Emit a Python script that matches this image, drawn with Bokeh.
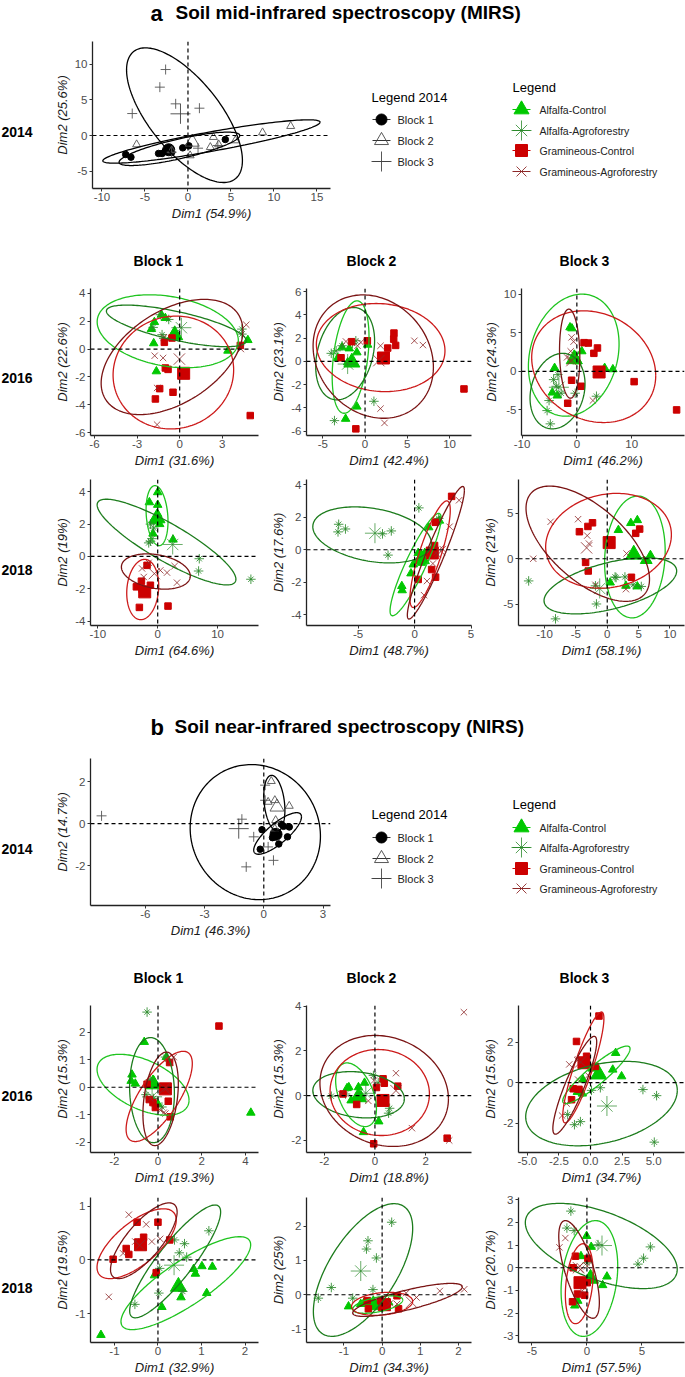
import numpy as np
from bokeh.plotting import figure
from bokeh.layouts import column, row
from bokeh.models import Span, FixedTicker
from bokeh.core.properties import value
from bokeh.embed import file_html
from bokeh.resources import INLINE

# ---------- series: (Dim1, Dim2); the last pair of each list is the group centroid ----------
a14_b1 = [(-7.24,-2.66),(-6.63,-3.04),(-3.42,-2.52),(-3.0,-2.52),(-2.65,-2.2),(-1.89,-2.34),(-0.61,-1.73),(0.1,-1.45),(4.34,-0.56),(-2.24,-2.0)]
a14_b2 = [(-5.97,-1.26),(8.67,0.42),(11.94,1.31),(2.96,-0.23),(2.6,-1.64),(3.57,-1.26),(5.5,-0.7),(0.25,-2.8),(-1.9,-2.1),(0.5,-0.93)]
a14_b3 = [(-2.6,9.25),(-3.27,6.78),(-1.43,4.44),(1.33,3.83),(-6.48,3.08),(1.17,-1.78),(-1.9,-2.34),(3.47,-1.4),(-0.87,3.04)]
a14_ell = [(-8.01,6.02,-4.21,0.47,0.0),(-9.9,15.36,-3.88,2.2,1.87),(-7.14,6.33,-6.59,12.29,-3.5)]

b14_b1 = [(-0.09,-0.29),(-0.18,-1.22),(0.44,-0.67),(0.76,-0.97),(1.2,-0.63),(1.29,-0.16),(1.0,-0.13),(0.89,-0.03),(0.62,-0.51)]
b14_b2 = [(0.38,2.02),(0.22,1.03),(0.56,1.11),(1.29,0.84),(0.6,0.16),(0.56,-0.24),(0.67,0.79)]
b14_b3 = [(-8.22,0.37),(-1.11,0.21),(-0.51,-0.63),(0.22,-1.11),(0.49,-1.75),(-0.89,-2.06),(0.07,1.83),(0.07,1.11),(-1.27,-0.24)]
b14_ell = [(-0.51,1.91,-1.46,0.52,0.32),(0.0,1.07,-0.35,2.3,0.63),(-3.73,2.87,-3.62,2.81,-0.6)]

# order of every panel below: triangles, stars, squares, crosses, ellipses (xmin,xmax,ymin,ymax,y at xmax)
a16b1_t = [(-1.29,2.46),(-1.01,2.22),(-1.78,1.93),(-1.99,1.43),(-1.83,0.41),(-1.64,-1.6),(3.4,-0.12),(4.8,0.64),(-0.54,0.95),(-0.35,1.0)]
a16b1_s = [(-1.36,2.46),(-0.77,2.12),(-1.87,1.55),(-1.24,1.03),(4.38,1.43),(4.38,1.07),(-1.12,0.76),(0.12,1.53)]
a16b1_q = [(-1.08,0.48),(-0.54,0.79),(4.27,0.26),(-1.01,-1.36),(-0.82,-1.46),(-1.41,-2.84),(-1.71,-3.58),(-0.47,-3.1),(4.97,-4.77),(0.28,-1.74)]
a16b1_x = [(4.69,1.74),(-1.76,-0.48),(-1.17,-0.64),(-1.59,-2.79),(-1.59,-5.42),(4.31,0.0),(-1.12,0.84),(-0.02,-0.72)]
a16b1_e = [(-5.81,4.13,-1.34,3.89,0.6),(-5.16,4.69,0.17,3.15,0.6),(-4.69,3.8,-5.73,2.36,-1.5),(-5.53,4.45,-4.7,3.56,1.31)]

a16b2_t = [(-2.72,1.2),(-1.87,1.11),(-0.97,0.77),(0.31,1.43),(-1.87,-0.23),(-1.28,-0.23),(-0.97,-3.89),(-2.3,-4.94),(-2.06,-0.09),(-3.23,0.29),(-1.56,-0.09)]
a16b2_s = [(-4.0,0.69),(-3.42,0.91),(-2.72,1.34),(-1.09,1.77),(-1.48,1.54),(1.05,-3.43),(-3.62,-5.09),(-2.06,-0.23)]
a16b2_q = [(-2.84,0.31),(-1.6,1.69),(0.27,1.77),(2.68,1.14),(3.42,2.43),(3.39,1.91),(3.62,1.37),(11.71,-2.37),(-1.09,-5.8),(2.18,0.29)]
a16b2_x = [(-2.26,1.71),(-0.89,1.34),(1.83,1.34),(5.84,1.77),(6.85,1.4),(1.83,-4.06),(2.3,-5.29),(-0.5,1.63),(1.63,0.06)]
a16b2_e = [(-3.89,0.47,-4.46,5.2,2.06),(-5.84,1.13,-3.31,4.63,1.77),(-5.76,9.46,-2.6,4.97,0.91),(-6.15,8.09,-4.89,5.71,-0.5)]

a16b3_t = [(-1.25,5.69),(-0.9,5.56),(0.9,2.59),(-0.36,2.03),(-4.06,0.43),(5.07,0.43),(6.57,0.26),(-4.48,-2.76),(-3.58,-3.15),(0.18,1.29),(-0.48,1.59)]
a16b3_s = [(-4.24,-1.08),(-3.46,-0.43),(-3.76,-1.94),(-2.87,-2.84),(-0.3,-2.84),(-5.07,-3.79),(-5.43,-5.09),(-4.84,-6.81),(3.58,-3.23),(-3.28,-2.07)]
a16b3_q = [(1.31,3.71),(2.09,3.66),(3.76,3.02),(3.1,2.33),(-0.96,-1.16),(0.78,-1.94),(-1.67,-4.14),(10.45,-1.34),(18.2,-5.0),(4.06,-0.09)]
a16b3_x = [(-0.96,4.4),(-0.6,3.84),(-1.13,2.59),(-1.79,1.81),(-1.25,1.29),(2.93,-3.79),(-0.9,1.38)]
a16b3_e = [(-8.84,7.7,-5.82,10.0,3.53),(-8.54,1.49,-7.46,2.33,-1.64),(-8.24,14.39,-6.64,7.84,-0.56),(-3.16,0.54,-3.49,8.06,1.81)]

a18b1_t = [(0,3.97),(-1.39,3.35),(0,3.19),(0,2.62),(0.33,2.0),(-0.56,2.17),(-0.78,1.41),(2.56,1.04),(-0.11,2.37)]
a18b1_s = [(-1.22,2.0),(-1.5,0.84),(-0.94,1.1),(6.94,-0.14),(6.83,-0.9),(15.56,-1.41),(-0.67,1.76),(-1.22,0.94),(2.5,0.74)]
a18b1_q = [(-1.78,-0.55),(-2.72,-1.53),(-1.22,-1.78),(-3.56,-1.88),(-3.06,-3.15),(1.72,-3.07),(-2.61,-2.02),(-2.17,-2.19)]
a18b1_x = [(-2.61,-0.74),(-2.33,-1.27),(2.83,-0.59),(1.56,-1.0),(0.44,-0.86),(3.22,-1.62),(-1.5,-0.39),(-0.56,-1.06)]
a18b1_e = [(-1.94,1.72,0.67,4.38,2.17),(-10.11,13.06,-1.76,3.54,-1.41),(-5.17,0.17,-3.91,-0.18,-1.82),(-6.06,5.44,-2.02,0.16,-1.21)]

a18b2_t = [(1.25,1.38),(2.2,1.79),(1.97,1.69),(0.32,-0.2),(-0.12,-0.91),(-0.32,-1.46),(0.61,-0.81),(-1.13,-2.24),(-1.1,-2.5),(0.9,-0.2),(0.6,-0.57)]
a18b2_s = [(-6.72,1.57),(-6.78,1.1),(-6.12,1.28),(-2.84,0.98),(-2.06,1.16),(-2.35,-0.33),(0.38,2.58),(2.14,1.93),(-3.51,1.02)]
a18b2_q = [(3.28,3.29),(1.83,1.69),(1.77,0.26),(1.62,-0.1),(1.51,-1.22),(1.86,-1.69),(0.32,-1.83),(1.33,-0.2),(1.57,-0.2)]
a18b2_x = [(3.94,3.05),(3.1,1.42),(2.49,0.04),(2.06,-0.3),(1.62,-0.85),(1.1,-1.93),(0.84,-2.8),(2.2,0.0)]
a18b2_e = [(-2.17,2.35,-4.07,2.24,1.93),(-9.01,1.48,-0.81,2.64,0.41),(-0.41,3.16,-3.56,3.01,2.44),(-0.64,4.41,-4.27,3.9,3.66)]

a18b3_t = [(1.78,3.16),(3.76,3.93),(4.8,4.25),(6.89,0.4),(0.47,-2.62),(2.98,-2.98),(4.8,-3.05),(5.95,-0.25),(6.48,-0.25),(4.23,0.47)]
a18b3_s = [(-12.53,-2.44),(-8.25,-6.62),(-1.72,-4.98),(1.25,-2.0),(1.41,-2.07),(2.82,-2.0),(4.13,-2.87),(5.43,-3.05),(-1.88,-2.98),(-1.2,-3.27)]
a18b3_q = [(-2.35,3.96),(-3.08,3.56),(-4.44,2.98),(4.54,2.8),(5.17,3.27),(-3.45,-0.4),(-3.03,-1.35),(3.86,-2.04),(0.31,1.78)]
a18b3_x = [(-4.65,4.36),(-9.03,4.07),(-3.19,2.55),(-2.92,1.67),(-11.8,0),(3.08,0.58),(-1.88,-2.87),(2.98,-3.35),(-3.29,1.2)]
a18b3_e = [(-0.42,9.24,-6.51,6.91,0.84),(-10.08,11.07,-6.07,0.11,-1.35),(-9.82,10.23,-3.24,7.2,2.65),(-12.95,6.74,-4.69,8.0,-2.25)]

b16b1_t = [(-0.63,1.65),(-1.19,0.46),(-1.23,0.23),(-1.04,0.13),(-0.2,0.25),(4.25,-0.93),(0,-0.62),(0.38,1.1),(-0.43,0.07),(-0.23,0.11)]
b16b1_s = [(-0.5,2.74),(-0.35,0.28),(-0.55,-0.27),(0.18,-0.72),(-0.2,-0.41),(0.34,1.1),(-0.27,-0.35)]
b16b1_q = [(2.79,2.23),(0.53,0.9),(-0.5,0.11),(-0.4,-0.45),(-0.23,-0.56),(-0.12,-0.74),(0.47,-0.51),(0.56,-1.08),(0.34,-0.06)]
b16b1_x = [(0.72,1.1),(0.26,-0.93),(0.11,-0.84),(0.38,-0.05),(0.56,0.92),(-0.35,-0.41),(0.34,-0.96),(0.3,-0.05)]
b16b1_e = [(-2.79,1.42,-1.02,1.2,-0.47),(-1.3,0.75,-2.02,1.81,-0.23),(-1.46,1.57,-1.98,1.31,0.86),(-0.69,0.93,-2.13,1.28,0.13)]

b16b2_t = [(-1.03,0.37),(-0.65,0.37),(-0.41,0.57),(-0.94,-0.22),(-0.55,0),(-0.68,-0.15),(0.15,-1.16),(-0.45,-1.64),(-1.1,0.33),(-0.65,-0.07)]
b16b2_s = [(-0.06,0.9),(0.13,0.57),(0.58,-0.57),(0.54,-0.79),(-1.16,0.07),(-1.72,-0.03),(-0.36,0.1)]
b16b2_q = [(0.32,0.75),(0.37,0.55),(0.06,0.36),(0.9,0.42),(-0.72,-0.4),(-1.26,0.07),(-0.05,-2.16),(2.85,-1.91),(0.32,-0.22)]
b16b2_x = [(3.51,3.73),(0.83,1.0),(-0.26,-0.24),(1.46,-1.46),(2.93,-2.01),(-0.04,0.67),(-1.33,0.07),(0.83,0.22)]
b16b2_e = [(-1.55,0.06,-1.39,1.46,-0.6),(-2.45,1.16,-1.0,1.07,-0.15),(-1.77,2.15,-1.79,2.06,0.07),(-2.17,2.9,-2.28,2.69,-0.15)]

b16b3_t = [(1.99,1.46),(1.76,0.64),(2.46,0.31),(-0.6,0.15),(-1.04,-0.46),(-0.65,-0.54),(0.13,0.69),(0.65,0.41)]
b16b3_s = [(4.15,-0.34),(5.23,-0.64),(5.05,-2.93),(0.78,-0.25),(0.08,-0.38),(-1.81,-1.57),(-1.27,-2.07),(-0.8,-1.92),(1.3,-1.15)]
b16b3_q = [(0.67,3.28),(-1.11,2.03),(-0.31,1.3),(0.39,0.8),(-1.37,-0.3),(-0.91,-0.33),(-1.5,-0.84),(-0.52,0.98)]
b16b3_x = [(-2.25,-1.62),(-1.89,-1.03),(-0.98,0.15),(-0.18,0.36),(-1.68,0.9),(-1.04,1.1),(-0.78,1.02)]
b16b3_e = [(-2.2,3.13,-1.03,1.8,1.67),(-5.13,6.87,-3.11,1.05,-0.38),(-2.2,1.06,-1.98,3.48,3.15),(-2.98,0.49,-2.54,2.28,2.0)]

b18b1_t = [(-1.31,-1.4),(0.09,-0.88),(0.53,-0.7),(0.82,-0.17),(0.86,-0.26),(1.01,-0.12),(1.25,-0.13),(1.12,-0.62),(-0.08,-0.29),(0.47,-0.5)]
b18b1_s = [(1.17,0.54),(0.61,0.3),(0.49,0.13),(0.66,0.05),(0.38,0.37),(0.02,-0.62),(-0.53,-0.83),(0.04,-0.16),(0.57,-0.59),(0.37,-0.1)]
b18b1_q = [(-0.48,0.7),(0,0.7),(-0.33,0.42),(0.27,0.37),(-0.73,0.21),(-0.67,0.1),(-1.03,0.01),(-0.04,-0.24),(-0.4,0.28)]
b18b1_x = [(-0.67,0.84),(-0.27,0.66),(-0.52,0.34),(-0.14,0.34),(0.05,0.39),(-0.8,0.12),(-1.13,-0.69),(-0.42,0.27)]
b18b1_e = [(-0.85,2.13,-1.3,0.43,0.28),(-0.65,1.44,-1.08,1.02,0.89),(-1.4,0.42,-0.35,0.95,0.74),(-1.09,0.44,-0.35,1.06,0.89)]

b18b2_t = [(-0.88,-0.34),(-0.47,-0.22),(-0.34,-0.27),(-0.17,-0.27),(0.17,-0.22),(-0.56,-0.27),(-0.04,-0.32),(-0.23,-0.3)]
b18b2_s = [(0.25,2.11),(-0.37,1.57),(-0.41,1.33),(-0.15,1.07),(-1.33,0.21),(-1.67,-0.1),(-0.24,0.15),(-0.77,-0.1),(-0.56,0.69)]
b18b2_q = [(0.39,-0.03),(0.43,-0.41),(-0.39,-0.17),(-0.36,-0.41),(-0.04,-0.17),(0.13,-0.22),(0,-0.27),(0.06,-0.29)]
b18b2_x = [(2.15,0.16),(1.51,0.11),(0.9,-0.08),(0.63,0.05),(0.39,-0.27),(0.21,-0.25),(0.77,-0.22)]
b18b2_e = [(-0.77,0.54,-0.54,-0.03,-0.15),(-1.8,0.8,-1.21,2.65,1.93),(-0.8,0.8,-0.6,0.07,-0.19),(-0.77,2.1,-0.63,0.33,0.23)]

b18b3_t = [(-0.03,1.4),(0.39,0.92),(-0.54,0.51),(0.27,-0.36),(1.82,-0.39),(1.43,-0.77),(-0.83,-1.46),(-1.1,-1.67),(0.33,-0.48)]
b18b3_s = [(-1.46,2.5),(-1.82,1.75),(-1.16,1.64),(1.01,1.02),(5.77,0.92),(5.15,0.42),(4.64,0.16),(0.03,0.22),(1.37,0.98)]
b18b3_q = [(-1.04,0.51),(0.09,0.41),(-1.25,0),(-0.86,-1.16),(-0.21,-1.21),(-1.31,-1.5),(0.03,-0.66),(-0.63,-0.66)]
b18b3_x = [(-1.96,1.31),(-2.5,0.9),(-0.65,0.07),(-0.57,-0.07),(0.03,0.07),(-0.42,-1.02),(-0.77,0)]
b18b3_e = [(-2.35,2.8,-3.03,2.08,0.07),(-5.6,8.21,-0.92,2.84,-0.07),(-1.96,0.57,-2.47,1.06,-0.22),(-2.56,1.13,-2.23,2.08,-1.53)]

# ---------- axis contents ----------
tick_a14x = [-10,-5,0,5,10,15]; tick_a14y = [-5,0,5,10]
tick_b14x = [-6,-3,0,3]; tick_b14y = [-2,0,2]
legend_blocks = ["Block 1","Block 2","Block 3"]
legend_groups = ["Alfalfa-Control","Alfalfa-Agroforestry","Gramineous-Control","Gramineous-Agroforestry"]
block_titles = ["Block 1","Block 2","Block 3"]

FONT = value("Liberation Sans")
GC, GA, RC, RA = "#00C800", "#2A8A2A", "#CC0000", "#8E2A2A"
EC = ["#1FC41F", "#1C7C1C", "#CC1A1A", "#7A1414"]
TICK = "#4D4D4D"

def ellipse(p, e, color):
    xmin, xmax, ymin, ymax, yx = e
    cx, cy, sx, sy = (xmin+xmax)/2, (ymin+ymax)/2, (xmax-xmin)/2, (ymax-ymin)/2
    r = (yx-cy)/sy
    t = np.linspace(0, 2*np.pi, 181)
    p.line(cx+sx*np.cos(t), cy+sy*(r*np.cos(t)+np.sqrt(1-r*r)*np.sin(t)), line_color=color, line_width=1.3)

def xy(s):
    return [a for a, _ in s], [b for _, b in s]

def tri(p, s, size, **k):
    p.scatter(*xy(s), marker="triangle", size=size, **k)

def star(p, x, y, size, color=GA, alpha=0.85, lw=1.0):
    p.scatter(x, y, marker="cross", size=size, fill_color=None, line_color=color, line_alpha=alpha, line_width=lw)
    p.scatter(x, y, marker="x", size=size*0.8, fill_color=None, line_color=color, line_alpha=alpha, line_width=lw)

def panel(w, h, left, right, top, bottom, xlim, ylim, xt, yt, xl, yl, fmt="{}"):
    p = figure(width=w, height=h, x_range=xlim, y_range=ylim, output_backend="svg", toolbar_location=None,
               min_border_left=left, min_border_right=right, min_border_top=top, min_border_bottom=bottom,
               outline_line_color=None, background_fill_color=None, border_fill_color=None)
    p.grid.visible = False
    for ax, ticks, lab in ((p.xaxis[0], xt, xl), (p.yaxis[0], yt, yl)):
        ax.ticker = FixedTicker(ticks=ticks)
        ax.major_label_overrides = {t: (fmt.format(t) if ax is p.xaxis[0] else str(t)) for t in ticks}
        ax.minor_tick_line_color = None
        ax.major_tick_in = 0; ax.major_tick_out = 3
        ax.major_tick_line_color = "#333333"; ax.axis_line_color = "#222222"; ax.axis_line_width = 1.3
        ax.major_label_text_color = TICK; ax.major_label_text_font = "Liberation Sans"
        ax.major_label_text_font_size = "11.5px"; ax.major_label_standoff = 2
        ax.axis_label = lab; ax.axis_label_text_font = "Liberation Sans"
        ax.axis_label_text_font_style = "italic"; ax.axis_label_text_font_size = "13px"
        ax.axis_label_text_color = "#1a1a1a"; ax.axis_label_standoff = 2
    p.xaxis[0].major_label_standoff = 1
    for dim in ("width", "height"):
        p.add_layout(Span(location=0, dimension=dim, line_color="black", line_dash="4 3", line_width=1.2))
    return p

def groups(p, t, s, q, x, e):
    tri(p, t[:-1], 8.5, fill_color=GC, line_color=GC)
    tri(p, t[-1:], 16, fill_color=GC, line_color=GC)
    sx, sy = xy(s); star(p, sx[:-1], sy[:-1], 9.5); star(p, sx[-1:], sy[-1:], 20, alpha=0.7)
    qx, qy = xy(q)
    p.scatter(qx[:-1], qy[:-1], marker="square", size=6.5, fill_color=RC, line_color=RC)
    p.scatter(qx[-1:], qy[-1:], marker="square", size=12, fill_color=RC, line_color=RC)
    xx, xyy = xy(x)
    p.scatter(xx[:-1], xyy[:-1], marker="x", size=9, fill_color=None, line_color=RA, line_alpha=0.8, line_width=1)
    p.scatter(xx[-1:], xyy[-1:], marker="x", size=16, fill_color=None, line_color=RA, line_alpha=0.8, line_width=1)
    for el, c in zip(e, EC):
        ellipse(p, el, c)

def blocks(p, b1, b2, b3, ells):
    x, y = xy(b1)
    p.scatter(x[:-1], y[:-1], marker="circle", size=6.5, fill_color="black", line_color="black")
    p.scatter(x[-1:], y[-1:], marker="circle", size=12, fill_color="black", line_color="black")
    x, y = xy(b2)
    p.scatter(x[:-1], y[:-1], marker="triangle", size=8, fill_color=None, line_color="#555555", line_width=0.9)
    p.scatter(x[-1:], y[-1:], marker="triangle", size=14, fill_color=None, line_color="#555555", line_width=0.9)
    x, y = xy(b3)
    p.scatter(x[:-1], y[:-1], marker="cross", size=10, fill_color=None, line_color="#555555", line_width=0.9)
    p.scatter(x[-1:], y[-1:], marker="cross", size=20, fill_color=None, line_color="#444444", line_width=0.9)
    for e in ells:
        ellipse(p, e, "black")

def blank(w, h, x0, y0):
    p = figure(width=w, height=h, x_range=(x0, x0+w), y_range=(y0+h, y0), output_backend="svg", toolbar_location=None,
               min_border=0, outline_line_color=None, background_fill_color=None, border_fill_color=None,
               frame_align=False)
    p.axis.visible = False; p.grid.visible = False
    return p

def put(p, x, y, text, size, style="normal", color="black", align="left"):
    p.text([x], [y], text=[text], text_font=FONT, text_font_size=size, text_font_style=style,
           text_baseline="middle", text_align=align, text_color=color)

def legends(x0, y0, w, h, ty1, by, ty2, gy):
    p = blank(w, h, x0, y0)
    put(p, 371, ty1, "Legend 2014", "13px")
    mx = 381
    for yy, t in zip(by, legend_blocks):
        p.line([372, 390], [yy, yy], line_color="#333333", line_width=1)
        put(p, 397, yy, t, "11px", color="#222222")
    p.scatter([mx], [by[0]], marker="circle", size=11, fill_color="black", line_color="black")
    p.scatter([mx], [by[1]], marker="triangle", size=14, fill_color=None, line_color="#444444", line_width=0.9)
    p.scatter([mx], [by[2]], marker="cross", size=20, fill_color=None, line_color="#444444", line_width=0.9)
    put(p, 512, ty2, "Legend", "13px")
    mx = 521
    for yy, t, c in zip(gy, legend_groups, (GC, GA, RC, RA)):
        p.line([512, 530], [yy, yy], line_color=c, line_width=1)
        put(p, 539, yy, t, "10.5px", color="#222222")
    p.scatter([mx], [gy[0]], marker="triangle", size=15, fill_color=GC, line_color=GC)
    star(p, [mx], [gy[1]], 20, alpha=0.8)
    p.scatter([mx], [gy[2]], marker="square", size=12, fill_color=RC, line_color=RC)
    p.scatter([mx], [gy[3]], marker="x", size=14, fill_color=None, line_color=RA, line_width=0.9)
    return p

def title(y0, h, letter, text, lx, tx, ty):
    p = blank(685, h, 0, y0)
    put(p, lx, ty + 1, letter, "22px", "bold")
    put(p, tx, ty, text, "19px", "bold")
    return p

def heads(y0, h, ty):
    p = blank(685, h, 0, y0)
    for cx, t in zip((158, 371, 584), block_titles):
        put(p, cx, ty, t, "14px", "bold", align="center")
    return p

LBL = 45
COL = [(268-LBL, 90-LBL, 10), (212, 35, 9)]

def rowlabel(y0, h, text, ty):
    p = blank(LBL, h, 0, y0)
    put(p, 1, ty, text, "14px", "bold")
    return p

def grid3(y0, h, top, bottom, frame3, specs, label, labely):
    figs = [rowlabel(y0, h, label, labely)]
    for i, (xlim, ylim, xt, yt, xl, yl, data, *fmt) in enumerate(specs):
        w, left, right = COL[i] if i < 2 else (205, frame3-480, 1)
        p = panel(w, h, left, right, top, bottom, xlim, ylim, xt, yt, xl, yl, *fmt)
        groups(p, *data)
        figs.append(p)
    return row(*figs, spacing=0)

title_a = title(0, 35, "a", "Soil mid-infrared spectroscopy (MIRS)", 150, 175, 11.5)
pa14 = panel(360-LBL, 205, 92-LBL, 30, 6, 52, (-11.1,16.57), (-7.43,13.18), tick_a14x, tick_a14y, "Dim1 (54.9%)", "Dim2 (25.6%)")
blocks(pa14, a14_b1, a14_b2, a14_b3, a14_ell)
row_a14 = row(rowlabel(35, 205, "2014", 131), pa14, legends(360, 35, 325, 205, 97, (119,140,161), 87, (109,130,150,171)), spacing=0)

head_a = heads(240, 40, 260)
row_a16 = grid3(280, 190, 8, 35, 518, [
    ((-6.28,5.55),(-6.2,4.34),[-6,-3,0,3],[-6,-4,-2,0,2,4],"Dim1 (31.6%)","Dim2 (22.6%)",(a16b1_t,a16b1_s,a16b1_q,a16b1_x,a16b1_e)),
    ((-6.93,12.6),(-6.37,6.26),[-5,0,5,10],[-6,-4,-2,0,2,4,6],"Dim1 (42.4%)","Dim2 (23.1%)",(a16b2_t,a16b2_s,a16b2_q,a16b2_x,a16b2_e)),
    ((-10.1,19.64),(-8.32,10.73),[-10,0,10],[-5,0,5,10],"Dim1 (46.2%)","Dim2 (24.3%)",(a16b3_t,a16b3_s,a16b3_q,a16b3_x,a16b3_e)),
], "2016", 377)
row_a18 = grid3(470, 190, 9, 33, 515, [
    ((-11.22,16.83),(-4.27,4.76),[-10,0,10],[-4,-2,0,2,4],"Dim1 (64.6%)","Dim2 (19%)",(a18b1_t,a18b1_s,a18b1_q,a18b1_x,a18b1_e)),
    ((-9.57,5.04),(-4.67,4.33),[-5,0,5],[-4,-2,0,2,4],"Dim1 (48.7%)","Dim2 (17.6%)",(a18b2_t,a18b2_s,a18b2_q,a18b2_x,a18b2_e)),
    ((-14.15,12.32),(-7.35,8.73),[-10,-5,0,5,10],[-5,0,5],"Dim1 (58.1%)","Dim2 (21%)",(a18b3_t,a18b3_s,a18b3_q,a18b3_x,a18b3_e)),
], "2018", 569)
title_b = title(660, 85, "b", "Soil near-infrared spectroscopy (NIRS)", 150, 174, 726)
pb14 = panel(360-LBL, 205, 90-LBL, 30, 13, 45, (-8.78,3.38), (-3.9,3.1), tick_b14x, tick_b14y, "Dim1 (46.3%)", "Dim2 (14.7%)")
blocks(pb14, b14_b1, b14_b2, b14_b3, b14_ell)
row_b14 = row(rowlabel(745, 205, "2014", 848), pb14, legends(360, 745, 325, 205, 814, (837,858,878), 804, (827,847,868,888)), spacing=0)
head_b = heads(950, 47, 977)
row_b16 = grid3(997, 193, 8, 38, 515, [
    ((-3.09,4.6),(-2.38,2.98),[-2,0,2,4],[-2,-1,0,1,2],"Dim1 (19.3%)","Dim2 (15.3%)",(b16b1_t,b16b1_s,b16b1_q,b16b1_x,b16b1_e)),
    ((-2.7,3.81),(-2.55,4.03),[-2,0,2],[-2,0,2,4],"Dim1 (18.8%)","Dim2 (15.3%)",(b16b2_t,b16b2_s,b16b2_q,b16b2_x,b16b2_e)),
    ((-5.7,7.44),(-3.44,3.8),[-5,-2.5,0,2.5,5],[-2,0,2],"Dim1 (34.7%)","Dim2 (15.6%)",(b16b3_t,b16b3_s,b16b3_q,b16b3_x,b16b3_e),"{:.1f}"),
], "2016", 1095)
row_b18 = grid3(1190, 187, 7, 33, 516, [
    ((-1.55,2.31),(-1.54,1.16),[-1,0,1,2],[-1,0,1],"Dim1 (32.9%)","Dim2 (19.5%)",(b18b1_t,b18b1_s,b18b1_q,b18b1_x,b18b1_e)),
    ((-1.98,2.34),(-1.39,2.83),[-1,0,1,2],[-1,0,1,2],"Dim1 (34.3%)","Dim2 (25%)",(b18b2_t,b18b2_s,b18b2_q,b18b2_x,b18b2_e)),
    ((-6.22,8.87),(-3.3,3.1),[-5,0,5],[-3,-2,-1,0,1,2,3],"Dim1 (57.5%)","Dim2 (20.7%)",(b18b3_t,b18b3_s,b18b3_q,b18b3_x,b18b3_e)),
], "2018", 1287)

page = column(title_a, row_a14, head_a, row_a16, row_a18, title_b, row_b14, head_b, row_b16, row_b18, spacing=0)
open("out.html", "w").write(file_html(page, INLINE))
